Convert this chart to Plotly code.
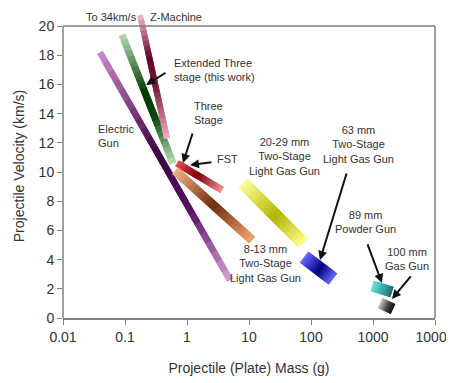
import numpy as np
import plotly.graph_objects as go

# ---- data: gun performance bands (mass in g, velocity in km/s) ----
band_names = ["Electric Gun", "Extended Three Stage", "Z-Machine", "FST",
              "8-13 mm Two-Stage", "20-29 mm Two-Stage", "63 mm Two-Stage",
              "89 mm Powder Gun", "100 mm Gas Gun"]
mass_start = [0.0395, 0.0895, 0.175, 0.69, 0.64, 8.0, 77.0, 964.0, 1297.0]
mass_end = [4.94, 0.594, 0.475, 3.67, 11.2, 74.3, 226.0, 2023.0, 2104.0]
vel_start = [18.2, 19.4, 20.75, 10.6, 10.1, 9.25, 4.18, 2.19, 1.03]
vel_end = [2.6, 10.6, 12.3, 8.77, 5.34, 5.14, 2.67, 1.78, 0.62]

x_tick_vals = [0.01, 0.1, 1, 10, 100, 1000, 10000]
x_tick_text = ["0.01", "0.1", "1", "10", "100", "1000", "10000"]
y_tick_vals = list(range(0, 21, 2))
y_max = 20

# ---- styles ----
band_width = [6.5, 7, 6, 7, 9, 13, 14, 11, 11]
band_stops = [
    [(0, "#c88ac8"), (0.45, "#3c0044"), (0.7, "#5a1466"), (1, "#d8a0d8")],
    [(0, "#b4dcb4"), (0.45, "#003a00"), (0.65, "#0c4a0c"), (1, "#b8e2b8")],
    [(0, "#f8b8d0"), (0.35, "#600028"), (0.6, "#80203c"), (1, "#f4b0c8")],
    [(0, "#e84858"), (0.45, "#800008"), (1, "#f49090")],
    [(0, "#f4b088"), (0.5, "#6e2e0c"), (1, "#f4a470")],
    [(0, "#ffff98"), (0.55, "#b4b400"), (1, "#ffff8c")],
    [(0, "#6a6aff"), (0.55, "#000080"), (1, "#6a6aff")],
    [(0, "#70e0e0"), (0.6, "#30a4a4"), (1, "#1e6e6e")],
    [(0, "#c8c8c8"), (0.6, "#404040"), (1, "#101010")],
]
text_font = dict(family="Liberation Sans, Arial, sans-serif", size=11, color="#333333")
axis_font = dict(family="Liberation Sans, Arial, sans-serif", size=14, color="#333333")
frame_line = dict(color="#7f7f7f", width=1.5)


def hex_rgb(h):
    h = h.lstrip("#")
    return [int(h[i:i + 2], 16) for i in (0, 2, 4)]


def color_at(stops, t):
    for (t0, c0), (t1, c1) in zip(stops[:-1], stops[1:]):
        if t0 <= t <= t1:
            f = (t - t0) / (t1 - t0) if t1 > t0 else 0
            a, b = hex_rgb(c0), hex_rgb(c1)
            r = [round(a[j] + f * (b[j] - a[j])) for j in range(3)]
            return "rgb(%d,%d,%d)" % tuple(r)
    return stops[-1][1]


fig = go.Figure()
nseg = 24
for i, name in enumerate(band_names):
    lx0, lx1 = np.log10(mass_start[i]), np.log10(mass_end[i])
    v0, v1 = vel_start[i], vel_end[i]
    for k in range(nseg):
        ta = k / nseg
        tb = min(1.0, (k + 2.0) / nseg)
        tm = (k + 0.5) / nseg
        xs = [10 ** (lx0 + ta * (lx1 - lx0)), 10 ** (lx0 + tb * (lx1 - lx0))]
        ys = [v0 + ta * (v1 - v0), v0 + tb * (v1 - v0)]
        fig.add_trace(go.Scatter(x=xs, y=ys, mode="lines", showlegend=False,
                                 hoverinfo="skip", name=name,
                                 line=dict(color=color_at(band_stops[i], tm),
                                           width=band_width[i])))

# ---- labels ----
labels = [
    ("To 34km/s", -1.21, 20.62, "center"),
    ("Z-Machine", -0.177, 20.62, "center"),
    ("Extended Three<br>stage (this work)", -0.25, 17.0, "left"),
    ("Electric<br>Gun", -1.46, 12.5, "left"),
    ("Three<br>Stage", 0.075, 14.05, "left"),
    ("FST", 0.445, 10.9, "left"),
    ("20-29 mm<br>Two-Stage<br>Light Gas Gun", 1.565, 11.05, "center"),
    ("63 mm<br>Two-Stage<br>Light Gas Gun", 2.774, 11.85, "center"),
    ("89 mm<br>Powder Gun", 2.871, 6.6, "center"),
    ("100 mm<br>Gas Gun", 3.548, 4.05, "center"),
    ("8-13 mm<br>Two-Stage<br>Light Gas Gun", 1.274, 3.7, "center"),
]
for txt, lx, yy, anc in labels:
    fig.add_annotation(x=lx, y=yy, xref="x", yref="y", text=txt, showarrow=False,
                       xanchor=anc, align=anc, yanchor="middle", font=text_font)

arrows = [  # (tail logx, tail y, head logx, head y)
    (-0.323, 16.85, -0.661, 15.96),
    (0.097, 12.74, -0.065, 10.62),
    (0.419, 10.68, 0.048, 10.48),
    (2.581, 10.0, 2.145, 3.97),
    (2.903, 5.14, 3.145, 2.40),
    (3.629, 2.95, 3.306, 1.30),
]
for tx, ty, hx, hy in arrows:
    fig.add_annotation(x=hx, y=hy, ax=tx, ay=ty, xref="x", yref="y",
                       axref="x", ayref="y", text="", showarrow=True,
                       arrowhead=2, arrowsize=0.9, arrowwidth=2,
                       arrowcolor="#111111", standoff=0)

# frame drawn up to y=20 only (plot area is a bit taller so the Z-machine
# band can poke out above the frame as in the original)
fig.add_shape(type="line", xref="paper", yref="y", x0=0, x1=1, y0=y_max, y1=y_max,
              line=frame_line, layer="above")
fig.add_shape(type="line", xref="paper", yref="y", x0=0, x1=0, y0=0, y1=y_max,
              line=frame_line, layer="above")
fig.add_shape(type="line", xref="paper", yref="y", x0=1, x1=1, y0=0, y1=y_max,
              line=frame_line, layer="above")

# page body has an 8px margin (top/left), figure sized to fit the window
fig_w, fig_h = 446, 375
m_l, m_r, m_t, m_b = 55, 19, 6, 65
plot_h = fig_h - m_t - m_b
y_top = y_max * plot_h / 292.0

axis_common = dict(ticks="outside", ticklen=5, tickcolor="#7f7f7f", showgrid=False,
                   zeroline=False, tickfont=axis_font)

fig.update_xaxes(type="log", range=[-2, 4], tickvals=x_tick_vals, ticktext=x_tick_text,
                 showline=True, linecolor="#7f7f7f", linewidth=1.5, mirror=False,
                 ticklabeloverflow="allow",
                 title=dict(text="Projectile (Plate) Mass (g)", standoff=20, font=axis_font),
                 **axis_common)
fig.update_yaxes(range=[0, y_top], tickvals=y_tick_vals, showline=False,
                 title=dict(text="Projectile Velocity (km/s)", standoff=10, font=axis_font),
                 **axis_common)

fig.update_layout(width=fig_w, height=fig_h,
                  margin=dict(l=m_l, r=m_r, t=m_t, b=m_b, autoexpand=False),
                  plot_bgcolor="white", paper_bgcolor="white", showlegend=False)

fig.write_html("out.html")
